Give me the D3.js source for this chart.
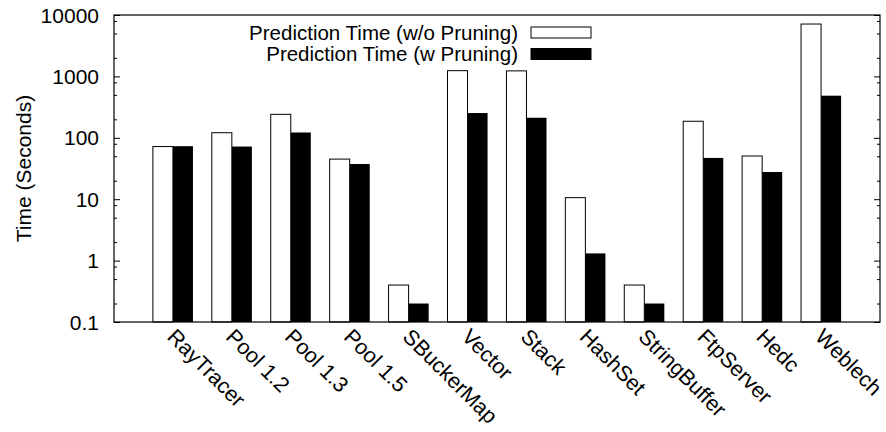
<!DOCTYPE html>
<html>
<head>
<meta charset="utf-8">
<script src="https://cdn.jsdelivr.net/npm/d3@7"></script>
<style>
  body { margin: 0; background: #fff; }
  text { font-family: "Liberation Sans", Arial, sans-serif; fill: #000; }
</style>
</head>
<body>
<div id="chart"></div>
<script>
const categories = ['RayTracer', 'Pool 1.2', 'Pool 1.3', 'Pool 1.5', 'SBuckerMap', 'Vector', 'Stack', 'HashSet', 'StringBuffer', 'FtpServer', 'Hedc', 'Weblech'];
const withoutPruning = [72, 121, 241, 45, 0.4, 1240, 1230, 10.6, 0.4, 186, 50.5, 7130];
const withPruning = [73, 72, 122, 37.4, 0.2, 253, 212, 1.31, 0.2, 47, 27.7, 485];
const seriesNames = ['Prediction Time (w/o Pruning)', 'Prediction Time (w Pruning)'];
const yTicks = [0.1, 1, 10, 100, 1000, 10000];
const yTickLabels = ['0.1', '1', '10', '100', '1000', '10000'];

let dimensions = {
	width  : 886,
	height : 432,
	left   : 114,
	right  : 880,
	top    : 15,
	bottom : 322
};

const svg = d3.select('#chart').append('svg').attr('width', dimensions.width).attr('height', dimensions.height);

const x = d3.scaleLinear().domain([ -1, 12 ]).range([ dimensions.left, dimensions.right ]);
const y = d3.scaleLog().domain([ 0.1, 10000 ]).range([ dimensions.bottom, dimensions.top ]);
const barW = x(0.34) - x(0);

// minor ticks at 2, 5, 8 of each decade
let minorTicks = [];
yTicks.slice(0, -1).forEach(function(t) {
	[ 2, 5, 8 ].forEach(function(m) {
		minorTicks.push(t * m);
	});
});

const rows = categories.map(function(c, i) {
	return { name: c, i: i, a: withoutPruning[i], b: withPruning[i] };
});

// bars
svg
	.append('g')
	.selectAll('rect')
	.data(rows)
	.enter()
	.append('rect')
	.attr('x', (d) => x(d.i) - barW)
	.attr('y', (d) => y(d.a))
	.attr('width', barW)
	.attr('height', (d) => dimensions.bottom - y(d.a))
	.attr('fill', '#fff')
	.attr('stroke', '#000')
	.attr('stroke-width', 1);

svg
	.append('g')
	.selectAll('rect')
	.data(rows)
	.enter()
	.append('rect')
	.attr('x', (d) => x(d.i))
	.attr('y', (d) => y(d.b))
	.attr('width', barW)
	.attr('height', (d) => dimensions.bottom - y(d.b))
	.attr('fill', '#000');

// y axes (ticks inward, mirrored on right)
const yAxisLeft = d3.axisRight(y).tickValues(yTicks).tickSize(6).tickFormat('');
const yAxisLeftMinor = d3.axisRight(y).tickValues(minorTicks).tickSize(3).tickFormat('');
const yAxisRight = d3.axisLeft(y).tickValues(yTicks).tickSize(6).tickFormat('');
const yAxisRightMinor = d3.axisLeft(y).tickValues(minorTicks).tickSize(3).tickFormat('');

[ [ yAxisLeft, dimensions.left ], [ yAxisLeftMinor, dimensions.left ], [ yAxisRight, dimensions.right ], [ yAxisRightMinor, dimensions.right ] ].forEach(function(a) {
	const g = svg.append('g').attr('transform', `translate(${a[1]},0)`).call(a[0]);
	g.select('.domain').remove();
	g.selectAll('line').attr('stroke', '#000');
});

// frame
svg
	.append('rect')
	.attr('x', dimensions.left)
	.attr('y', dimensions.top)
	.attr('width', dimensions.right - dimensions.left)
	.attr('height', dimensions.bottom - dimensions.top)
	.attr('fill', 'none')
	.attr('stroke', '#000')
	.attr('stroke-width', 1.2);

// y tick labels
svg
	.append('g')
	.selectAll('text')
	.data(yTicks)
	.enter()
	.append('text')
	.attr('x', 99)
	.attr('y', (d) => y(d))
	.attr('dy', '0.36em')
	.attr('text-anchor', 'end')
	.attr('font-size', 21)
	.text((d, i) => yTickLabels[i]);

// y label
svg
	.append('text')
	.attr('transform', `translate(31, ${(dimensions.top + dimensions.bottom) / 2}) rotate(-90)`)
	.attr('text-anchor', 'middle')
	.attr('font-size', 21)
	.text('Time (Seconds)');

// x labels, rotated
svg
	.append('g')
	.selectAll('text')
	.data(rows)
	.enter()
	.append('text')
	.attr('transform', (d) => `translate(${x(d.i) - 7}, 338) rotate(45)`)
	.attr('text-anchor', 'start')
	.attr('font-size', 21.5)
	.text((d) => d.name);

// legend
const legend = svg.append('g');
seriesNames.forEach(function(name, i) {
	const cy = 32.5 + i * 21.5;
	legend
		.append('text')
		.attr('x', 518)
		.attr('y', cy)
		.attr('dy', '0.36em')
		.attr('text-anchor', 'end')
		.attr('font-size', 20.5)
		.text(name);
	legend
		.append('rect')
		.attr('x', 531)
		.attr('y', cy - 5.5)
		.attr('width', 60)
		.attr('height', 11)
		.attr('fill', i === 0 ? '#fff' : '#000')
		.attr('stroke', '#000')
		.attr('stroke-width', 1);
});
</script>
</body>
</html>
